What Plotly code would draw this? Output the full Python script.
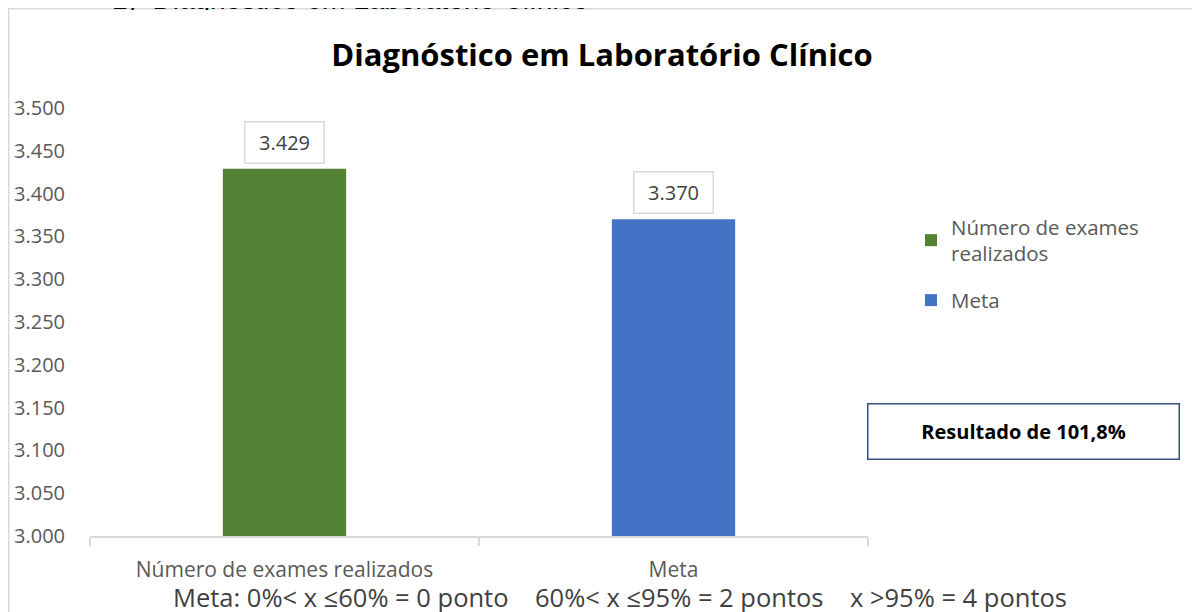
import plotly.graph_objects as go

# ---- data ----
categories = ["Número de exames realizados", "Meta"]
legend_names = ["Número de exames<br>realizados", "Meta"]
values = [3429, 3370]
colors = ["#548235", "#4472C4"]
value_labels = ["3.429", "3.370"]
y_ticks = [3000, 3050, 3100, 3150, 3200, 3250, 3300, 3350, 3400, 3450, 3500]

title_text = "Diagnóstico em Laboratório Clínico"
header_text = "1)  Diagnóstico em Laboratório Clínico"
result_text = "Resultado de 101,8%"
note_text = "Meta: 0%< x ≤60% = 0 ponto    60%< x ≤95% = 2 pontos    x >95% = 4 pontos"

GRAY = "#595959"
FONT = "Open Sans"

# page offset (html body margin) and figure size
OFF = 8
W, H = 1200 - OFF, 612 - OFF
# plot area in page pixels: x 90..868, y 108..536
L, R, T, B = 90 - OFF, 868 - OFF, 108 - OFF, 536 - OFF


def px(p):
    return (p - OFF - L) / (R - L)


def py(q):
    return (B - (q - OFF)) / (B - T)


def cx(p):
    return (p - OFF) / W


def cy(q):
    return 1 - (q - OFF) / H


fig = go.Figure()
for i in range(len(categories)):
    fig.add_trace(go.Bar(
        x=[categories[i]], y=[values[i]], name=legend_names[i],
        marker=dict(color=colors[i], line=dict(width=0)),
        width=0.317, legendgroup=f"g{i}",
    ))

annotations = []
# header text partly hidden behind the chart frame (drawn first, then covered)
annotations.append(dict(
    x=px(110), y=py(17), xref="paper", yref="paper", xanchor="left",
    yanchor="bottom", text=header_text, showarrow=False,
    font=dict(family="Liberation Sans, Arial, sans-serif", size=28, color="#000000"),
))
annotations.append(dict(
    x=px(100), y=py(9.8), xref="paper", yref="paper", xanchor="left",
    yanchor="top", text=" ", showarrow=False, width=560, height=14,
    bgcolor="white", borderwidth=0, borderpad=0,
    font=dict(size=8, color="white"),
))

for i in range(len(categories)):
    annotations.append(dict(
        x=categories[i], y=values[i], xref="x", yref="y",
        text=value_labels[i], showarrow=False, xanchor="center", yanchor="bottom",
        yshift=5, width=76, height=38, bgcolor="white",
        bordercolor="#d9d9d9", borderwidth=1.5, borderpad=1,
        font=dict(family=FONT, size=20, color="#404040"),
    ))

annotations.append(dict(
    x=px(1023), y=py(431), xref="paper", yref="paper",
    xanchor="center", yanchor="middle",
    text=f"<b>{result_text}</b>", showarrow=False,
    width=308, height=52, bgcolor="white",
    bordercolor="#33507f", borderwidth=1.5, borderpad=1,
    font=dict(family=FONT, size=20, color="#000000"),
))

annotations.append(dict(
    x=px(620), y=py(597), xref="paper", yref="paper",
    xanchor="center", yanchor="middle",
    text=note_text, showarrow=False,
    font=dict(family=FONT, size=25.5, color="#404040"),
))

fig.update_layout(
    width=W, height=H,
    margin=dict(l=L, r=W - R, t=T, b=H - B, pad=0, autoexpand=False),
    paper_bgcolor="white", plot_bgcolor="white",
    separators=",.",
    barmode="overlay",
    title=dict(text=f"<b>{title_text}</b>", x=cx(602), xref="container",
               xanchor="center", y=cy(55), yref="container",
               yanchor="middle",
               font=dict(family=FONT, size=31, color="#000000")),
    xaxis=dict(
        range=[-0.5, 1.5], showline=True, linecolor="#d9d9d9", linewidth=1.5,
        ticks="outside", tickson="boundaries", ticklen=8, tickcolor="#d9d9d9",
        tickwidth=1.5, showgrid=False, zeroline=False, automargin=False,
        tickfont=dict(family=FONT, size=21, color=GRAY), ticklabelstandoff=14,
    ),
    yaxis=dict(
        range=[3000, 3500], tickvals=y_ticks, tickformat=",d",
        showline=False, showgrid=False, zeroline=False, ticks="", automargin=False,
        tickfont=dict(family=FONT, size=20, color=GRAY), ticklabelstandoff=24,
    ),
    legend=dict(
        x=cx(911), y=cy(207), xref="container", yref="container",
        xanchor="left", yanchor="top",
        font=dict(family=FONT, size=20.5, color=GRAY),
        tracegroupgap=17, bgcolor="rgba(0,0,0,0)",
    ),
    showlegend=True,
    annotations=annotations,
    shapes=[dict(
        type="rect", xref="paper", yref="paper",
        x0=px(8.75), x1=px(1240), y0=py(660), y1=py(8.75),
        line=dict(color="#d9d9d9", width=1.5), layer="above",
    )],
)

fig.write_html("out.html")
